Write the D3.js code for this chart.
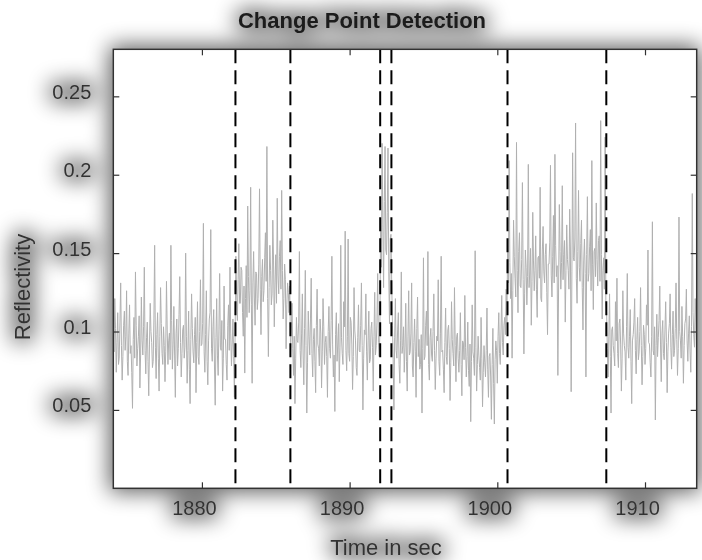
<!DOCTYPE html>
<html>
<head>
<meta charset="utf-8">
<script src="https://cdn.jsdelivr.net/npm/d3@7/dist/d3.min.js"></script>
<style>
  html, body { margin: 0; padding: 0; background: #ffffff; }
  svg { display: block; }
</style>
</head>
<body>
<svg id="chart" width="702" height="560"></svg>
<script>
// ---------------- data ----------------
const sampleStart = 1874.0;   // seconds, first sample
const sampleStep = 0.05;      // seconds between samples

const segment1 = [0.098,0.087,0.121,0.102,0.074,0.093,0.112,0.079,0.083,0.106,0.131,0.091,0.069,0.084,0.104,0.113,0.088,0.097,0.126,0.081,
  0.072,0.099,0.117,0.086,0.091,0.074,0.051,0.095,0.109,0.083,0.138,0.104,0.078,0.089,0.097,0.110,0.064,0.085,0.122,0.094,
  0.085,0.103,0.141,0.088,0.073,0.096,0.106,0.081,0.059,0.092,0.118,0.100,0.093,0.077,0.081,0.108,0.155,0.090,0.070,0.098,
  0.112,0.083,0.062,0.097,0.128,0.105,0.086,0.079,0.103,0.091,0.068,0.087,0.132,0.101,0.079,0.094,0.099,0.082,0.155,0.107,
  0.076,0.092,0.116,0.085,0.058,0.099,0.108,0.078,0.089,0.111,0.135,0.093,0.071,0.086,0.101,0.104,0.083,0.090,0.150,0.097,
  0.067,0.088,0.113,0.076,0.054,0.095,0.124,0.102,0.087,0.080,0.098,0.109,0.061,0.093,0.119,0.084,0.079,0.100,0.133,0.091,
  0.092,0.105,0.169,0.087,0.074,0.098,0.126,0.081,0.066,0.094,0.108,0.112,0.165,0.089,0.081,0.103,0.114,0.078,0.053,0.096,
  0.121,0.085,0.072,0.101,0.137,0.090,0.088,0.107,0.062,0.083,0.129,0.095,0.095,0.079,0.069,0.104,0.117,0.088,0.141,0.099,
  0.078,0.092,0.108,0.084,0.058,0.100];
const segment2 = [0.148,0.124,0.107,0.133,0.156,0.118,0.118,0.141,0.139,0.112,0.097,0.129,0.0735,0.121,0.142,0.109,0.180,0.135,0.112,0.126,
  0.192,0.117,0.067,0.131,0.151,0.122,0.104,0.138,0.137,0.114,0.121,0.143,0.191,0.127,0.098,0.135,0.146,0.119,0.126,0.147,
  0.163,0.132,0.218,0.121,0.084,0.128,0.155,0.139,0.117,0.124,0.171,0.145,0.103,0.131,0.149,0.118,0.185,0.136,0.124,0.148,
  0.158,0.127,0.190,0.139,0.108,0.121,0.143,0.133,0.089,0.117,0.131,0.125,0.112,0.129];
const segment3 = [0.087,0.101,0.118,0.089,0.072,0.097,0.054,0.083,0.109,0.094,0.093,0.106,0.151,0.088,0.077,0.099,0.124,0.085,0.066,0.102,
  0.139,0.091,0.048,0.080,0.113,0.097,0.085,0.108,0.134,0.086,0.071,0.095,0.102,0.081,0.061,0.104,0.127,0.092,0.089,0.078,
  0.108,0.099,0.064,0.087,0.121,0.103,0.079,0.093,0.097,0.084,0.058,0.100,0.116,0.089,0.083,0.107,0.148,0.092,0.071,0.085,
  0.049,0.098,0.112,0.081,0.092,0.105,0.068,0.090,0.155,0.096,0.086,0.079,0.119,0.103,0.164,0.088,0.075,0.097,0.159,0.086,
  0.081,0.109,0.106,0.092,0.063,0.084,0.128,0.101,0.094,0.077,0.072,0.096,0.117,0.088,0.087,0.104,0.131,0.091,0.050,0.083,
  0.101,0.098,0.124,0.087,0.069,0.094,0.113,0.080,0.082,0.102,0.106,0.090,0.062,0.097,0.125,0.085,0.091,0.106,0.137,0.093,
  0.084,0.099];
const segment4 = [0.172,0.141,0.220,0.168,0.128,0.183,0.218,0.152,0.149,0.176,0.217,0.138,0.105,0.159,0.162,0.131];
const segment5 = [0.104,0.082,0.050,0.096,0.121,0.088,0.083,0.101,0.112,0.079,0.067,0.094,0.138,0.086,0.091,0.103,0.074,0.090,0.118,0.081,
  0.062,0.097,0.126,0.085,0.087,0.099,0.131,0.078,0.071,0.093,0.108,0.087,0.058,0.102,0.122,0.084,0.095,0.076,0.079,0.098,
  0.048,0.089,0.147,0.082,0.084,0.104,0.113,0.091,0.151,0.079,0.069,0.096,0.102,0.085,0.081,0.100,0.124,0.088,0.063,0.083,
  0.097,0.094,0.133,0.081,0.072,0.099,0.148,0.087,0.088,0.076,0.061,0.093,0.115,0.084,0.079,0.101,0.104,0.089,0.056,0.080,
  0.119,0.095,0.086,0.078,0.128,0.091,0.068,0.097,0.099,0.083,0.074,0.088,0.112,0.079,0.059,0.094,0.093,0.082,0.123,0.090,
  0.071,0.084,0.106,0.075,0.065,0.092,0.0425,0.081,0.117,0.087,0.083,0.072,0.1515,0.090,0.062,0.079,0.097,0.085,0.077,0.069,
  0.109,0.083,0.052,0.074,0.091,0.080,0.071,0.088,0.115,0.076,0.058,0.084,0.086,0.071,0.044,0.079,0.102,0.067,0.041,0.082,
  0.094,0.088,0.067,0.097,0.112,0.086,0.079,0.101,0.123,0.093,0.085,0.104,0.109,0.098,0.127,0.106];
const segment6 = [0.158,0.131,0.209,0.144,0.121,0.137,0.083,0.126,0.171,0.148,0.134,0.122,0.2206,0.139,0.112,0.151,0.163,0.129,0.128,0.146,
  0.195,0.133,0.0857,0.124,0.152,0.141,0.117,0.135,0.2066,0.128,0.138,0.153,0.104,0.132,0.176,0.145,0.126,0.139,0.161,0.127,
  0.109,0.147,0.148,0.134,0.192,0.121,0.119,0.152,0.167,0.138,0.131,0.149,0.156,0.125,0.098,0.143,0.143,0.157,0.206,0.136,
  0.122,0.148,0.174,0.131,0.213,0.155,0.135,0.142,0.072,0.129,0.181,0.151,0.127,0.144,0.193,0.133,0.149,0.158,0.106,0.139,
  0.168,0.146,0.139,0.127,0.178,0.152,0.0616,0.138,0.214,0.147,0.145,0.159,0.233,0.134,0.118,0.151,0.190,0.141,0.132,0.156,
  0.171,0.128,0.101,0.145,0.159,0.137,0.071,0.149,0.186,0.132,0.137,0.154,0.165,0.126,0.209,0.143,0.114,0.151,0.153,0.135,
  0.182,0.146,0.129,0.158,0.161,0.132,0.2345,0.149,0.108,0.139,0.147,0.127,0.224,0.118];
const segment7 = [0.112,0.089,0.071,0.097,0.124,0.084,0.048,0.101,0.103,0.091,0.086,0.078,0.119,0.094,0.134,0.086,0.077,0.105,0.108,0.092,
  0.062,0.083,0.126,0.099,0.091,0.087,0.069,0.103,0.137,0.090,0.083,0.097,0.114,0.081,0.054,0.094,0.098,0.106,0.121,0.088,
  0.073,0.095,0.109,0.082,0.087,0.100,0.128,0.091,0.066,0.084,0.104,0.098,0.079,0.089,0.117,0.104,0.152,0.093,0.092,0.080,
  0.071,0.097,0.170,0.088,0.085,0.103,0.0436,0.091,0.111,0.084,0.096,0.107,0.129,0.092,0.068,0.099,0.107,0.086,0.082,0.101,
  0.119,0.093,0.061,0.087,0.099,0.105,0.124,0.090,0.076,0.098,0.113,0.084,0.088,0.102,0.131,0.095,0.072,0.089,0.173,0.100,
  0.094,0.083,0.116,0.097,0.067,0.091,0.105,0.108,0.127,0.094,0.081,0.099,0.110,0.087,0.074,0.103,0.188,0.112,0.098,0.090,
  0.121,0.106,0.079,0.093];

const reflectivity = [].concat(segment1, segment2, segment3, segment4, segment5, segment6, segment7);
const changePoints = [1882.27, 1885.99, 1892.07, 1892.83, 1900.69, 1907.38];
const xTicks = [1880, 1890, 1900, 1910];
const yTicks = [0.05, 0.1, 0.15, 0.2, 0.25];
const xDomain = [1874, 1913.5];
const yDomain = [0, 0.28];
const titleText = "Change Point Detection";
const xLabelText = "Time in sec";
const yLabelText = "Reflectivity";

// ---------------- layout ----------------
const plot = { left: 113.3, right: 696.7, top: 49.3, bottom: 488.3 };

const svg = d3.select("#chart");
const defs = svg.append("defs");
const f = defs.append("filter").attr("id", "shadow")
  .attr("filterUnits", "userSpaceOnUse")
  .attr("x", -60).attr("y", -60).attr("width", 830).attr("height", 690);
f.append("feMorphology").attr("in", "SourceAlpha").attr("operator", "dilate").attr("radius", 3).attr("result", "fat");
f.append("feGaussianBlur").attr("in", "fat").attr("stdDeviation", 11).attr("result", "blur");
f.append("feComponentTransfer").attr("in", "blur").attr("result", "shade")
  .append("feFuncA").attr("type", "linear").attr("slope", 0.64);
const merge = f.append("feMerge");
merge.append("feMergeNode").attr("in", "shade");
merge.append("feMergeNode").attr("in", "SourceGraphic");

defs.append("clipPath").attr("id", "plotClip")
  .append("rect")
  .attr("x", plot.left).attr("y", plot.top)
  .attr("width", plot.right - plot.left).attr("height", plot.bottom - plot.top);

const x = d3.scaleLinear().domain(xDomain).range([plot.left, plot.right]);
const y = d3.scaleLinear().domain(yDomain).range([plot.bottom, plot.top]);

const root = svg.append("g").attr("filter", "url(#shadow)");

// plot background
root.append("rect")
  .attr("x", plot.left).attr("y", plot.top)
  .attr("width", plot.right - plot.left).attr("height", plot.bottom - plot.top)
  .attr("fill", "#ffffff");

// signal
const series = reflectivity.map((v, i) => ({ t: sampleStart + i * sampleStep, v }));
const line = d3.line().x(d => x(d.t)).y(d => y(d.v));
root.append("path")
  .datum(series)
  .attr("clip-path", "url(#plotClip)")
  .attr("fill", "none")
  .attr("stroke", "#b0b0b0")
  .attr("stroke-width", 1)
  .attr("stroke-linejoin", "bevel")
  .attr("d", line);

// change points
root.append("g").selectAll("line")
  .data(changePoints)
  .join("line")
  .attr("x1", d => x(d)).attr("x2", d => x(d))
  .attr("y1", plot.top).attr("y2", plot.bottom)
  .attr("stroke", "#000000")
  .attr("stroke-width", 2)
  .attr("stroke-dasharray", "14,7");

// axes
const fontFam = "'Liberation Sans', Arial, Helvetica, sans-serif";
const tickLen = 6;

const gx = root.append("g")
  .attr("transform", `translate(0,${plot.bottom})`)
  .call(d3.axisBottom(x).tickValues(xTicks).tickSize(-tickLen).tickPadding(13).tickFormat(d3.format("d")));
const gxTop = root.append("g")
  .attr("transform", `translate(0,${plot.top})`)
  .call(d3.axisTop(x).tickValues(xTicks).tickSize(-tickLen).tickFormat(""));
const gy = root.append("g")
  .attr("transform", `translate(${plot.left},0)`)
  .call(d3.axisLeft(y).tickValues(yTicks).tickSize(-tickLen).tickPadding(22).tickFormat(d => String(d)));
const gyRight = root.append("g")
  .attr("transform", `translate(${plot.right},0)`)
  .call(d3.axisRight(y).tickValues(yTicks).tickSize(-tickLen).tickFormat(""));

[gx, gxTop, gy, gyRight].forEach(g => {
  g.select(".domain").remove();
  g.selectAll(".tick line").attr("stroke", "#333333").attr("stroke-width", 1.2);
  g.selectAll(".tick text")
    .attr("fill", "#333333")
    .style("font-family", fontFam)
    .style("font-size", "20px");
});
gx.selectAll(".tick text").attr("dx", "-8");
gy.selectAll(".tick text").attr("dy", "0.1em");

// frame
root.append("rect")
  .attr("x", plot.left).attr("y", plot.top)
  .attr("width", plot.right - plot.left).attr("height", plot.bottom - plot.top)
  .attr("fill", "none")
  .attr("stroke", "#333333")
  .attr("stroke-width", 1.5);

// title and labels
root.append("text")
  .attr("x", 362).attr("y", 28)
  .attr("text-anchor", "middle")
  .style("font-family", fontFam)
  .style("font-size", "22px")
  .style("font-weight", "bold")
  .attr("fill", "#1a1a1a")
  .text(titleText);

root.append("text")
  .attr("x", 386).attr("y", 555)
  .attr("text-anchor", "middle")
  .style("font-family", fontFam)
  .style("font-size", "22px")
  .attr("fill", "#333333")
  .text(xLabelText);

root.append("text")
  .attr("transform", "translate(30,287) rotate(-90)")
  .attr("text-anchor", "middle")
  .style("font-family", fontFam)
  .style("font-size", "22px")
  .attr("fill", "#333333")
  .text(yLabelText);
</script>
</body>
</html>
